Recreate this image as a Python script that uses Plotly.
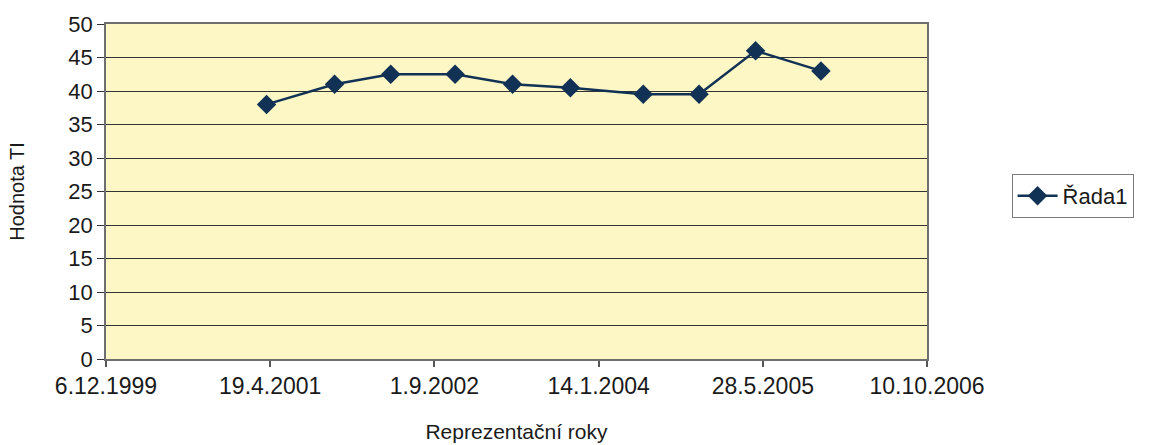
import plotly.graph_objects as go

# Survey dates and measured TI values
dates = [
    "2001-04-08", "2001-11-01", "2002-04-21", "2002-11-03", "2003-04-27",
    "2003-10-20", "2004-05-29", "2004-11-15", "2005-05-06", "2005-11-21",
]
values = [38, 41, 42.5, 42.5, 41, 40.5, 39.5, 39.5, 46, 43]

series_name = "Řada1"
x_title = "Reprezentační roky"
y_title = "Hodnota TI"

FONT = "Liberation Sans, Arial, sans-serif"
LINE_COLOR = "#113254"
DAY_MS = 86400000

fig = go.Figure()
fig.add_trace(go.Scatter(
    x=dates, y=values, name=series_name,
    mode="lines+markers",
    line=dict(color=LINE_COLOR, width=2.5),
    marker=dict(symbol="diamond", size=15, color=LINE_COLOR),
    showlegend=True,
))

fig.update_layout(
    width=1157, height=445,
    margin=dict(l=106, r=230, t=24, b=86),
    paper_bgcolor="white",
    plot_bgcolor="#fdf7c6",
    font=dict(family=FONT, size=22, color="#1a1a1a"),
    showlegend=True,
    legend=dict(
        x=1.103, y=0.487, xanchor="left", yanchor="middle",
        bordercolor="#7a7a7a", borderwidth=1,
        bgcolor="white",
        font=dict(size=22),
        itemwidth=40,
    ),
    xaxis=dict(
        type="date",
        range=["1999-12-06", "2006-10-10"],
        tick0="1999-12-06", dtick=500 * DAY_MS,
        tickformat="%-d.%-m.%Y",
        showgrid=False, zeroline=False,
        showline=True, linecolor="#6e6e6e", linewidth=1.5, mirror=True,
        ticks="outside", ticklen=6, tickcolor="#555", tickwidth=1.5,
        title=dict(text=x_title, font=dict(size=21), standoff=26),
        tickfont=dict(size=23),
        automargin=False,
    ),
    yaxis=dict(
        range=[0, 50], dtick=5, tick0=0,
        showgrid=True, gridcolor="#333333", gridwidth=1,
        zeroline=False,
        showline=True, linecolor="#6e6e6e", linewidth=1.5, mirror=True,
        ticks="outside", ticklen=7, tickcolor="#333333", tickwidth=1,
        title=dict(text=y_title, font=dict(size=20), standoff=38),
        tickfont=dict(size=22),
        automargin=False,
    ),
)

fig.write_html("out.html")
